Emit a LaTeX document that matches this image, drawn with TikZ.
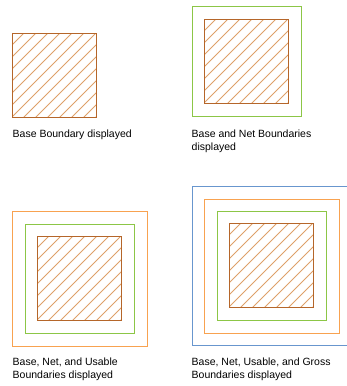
\documentclass[tikz,border=0pt]{standalone}
\usepackage{fontspec}
\setmainfont{Liberation Sans}
\usetikzlibrary{positioning}
\definecolor{basebrown}{RGB}{181,102,42}
\definecolor{hatchbrown}{RGB}{222,160,105}
\definecolor{netgreen}{RGB}{140,198,70}
\definecolor{usableorange}{RGB}{248,162,80}
\definecolor{grossblue}{RGB}{104,150,206}
\tikzset{
	caption/.style={anchor=base west, inner sep=0pt, align=left, font=\fontsize{10.5}{13}\selectfont},
	hatchline/.style={draw=hatchbrown, line width=0.9pt},
	baseedge/.style={draw=basebrown, line width=1pt},
	netline/.style={draw=netgreen, line width=1pt},
	usableline/.style={draw=usableorange, line width=1pt},
	grossline/.style={draw=grossblue, line width=1pt}
}
% hatched base boundary: lower left corner at (#1,#2) in pixel units
\newcommand{\basesquare}[2]{
	\foreach \k in {11,23,...,83} {
		\draw[hatchline] (#1+\k,#2) -- (#1+84,#2-84+\k);
	}
	\foreach \k in {1,13,...,73} {
		\draw[hatchline] (#1,#2-\k) -- (#1+84-\k,#2-84);
	}
	\draw[baseedge] (#1,#2) rectangle ++(84,-84);
}
\begin{document}
\begin{tikzpicture}[x=1pt,y=-1pt]
		
		\useasboundingbox (-0.5,-0.5) rectangle (345.5,385.5);
		
		% Base only
		\basesquare{12}{117}
		\node[caption] (capbase) at (12,137) {Base Boundary displayed};
		
		% Base and net
		\draw[netline] (192,6) rectangle (301,116);
		\basesquare{204}{103}
		\node[caption] (capnet) at (191,150) {Base and Net Boundaries\\displayed};
		
		% Base, net and usable
		\draw[usableline] (12,211) rectangle (147,346);
		\draw[netline] (25,224) rectangle (134,333);
		\basesquare{37}{320}
		\node[caption] (capusable) at (12,378) {Base, Net, and Usable\\Boundaries displayed};
		
		% Base, net, usable and gross (right side runs off the picture)
		\draw[grossline] (346,186) -- (192,186) -- (192,345) -- (346,345);
		\draw[usableline] (204,199) rectangle (339,333);
		\draw[netline] (217,211) rectangle (326,320);
		\basesquare{229}{307}
		\node[caption] (capgross) at (191,378) {Base, Net, Usable, and Gross\\Boundaries displayed};
		
	\end{tikzpicture}
\end{document}
